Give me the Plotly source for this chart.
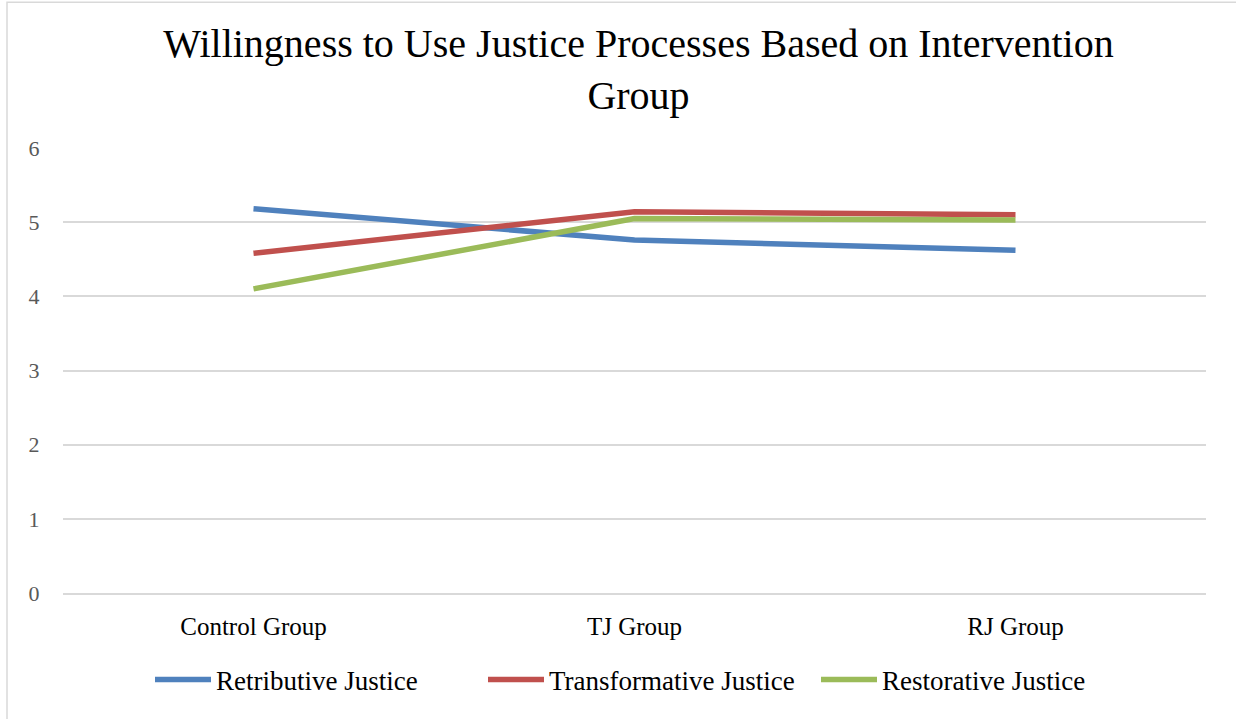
import plotly.graph_objects as go

categories = ["Control Group", "TJ Group", "RJ Group"]
retributive = [5.18, 4.76, 4.62]
transformative = [4.58, 5.14, 5.10]
restorative = [4.10, 5.05, 5.03]
series_names = ["Retributive Justice", "Transformative Justice", "Restorative Justice"]
colors = ["#4F81BD", "#C0504D", "#9BBB59"]
y_ticks = [0, 1, 2, 3, 4, 5, 6]

fig = go.Figure()
for name, vals, c in zip(series_names, [retributive, transformative, restorative], colors):
    fig.add_trace(go.Scatter(x=categories, y=vals, mode="lines", name=name,
                             line=dict(color=c, width=5.5)))

fig.update_layout(
    width=1236, height=719,
    paper_bgcolor="white", plot_bgcolor="white",
    margin=dict(l=63, r=30, t=148, b=125.5, autoexpand=False),
    title=dict(text="Willingness to Use Justice Processes Based on Intervention<br>Group",
               x=0.5035, xanchor="center", xref="paper", yref="container",
               y=1 - 57 / 719, yanchor="middle",
               font=dict(family="Liberation Serif", size=40, color="black")),
    font=dict(family="Liberation Serif", size=21, color="#404040"),
    showlegend=True,
    legend=dict(orientation="h", x=(150 - 63) / 1143, xanchor="left",
                y=(593.5 - 656) / 445.5, yanchor="top",
                font=dict(family="Liberation Serif", size=27, color="black"),
                itemwidth=56, entrywidth=262, entrywidthmode="pixels"),
    xaxis=dict(type="category", showgrid=False, showline=True, linecolor="#d9d9d9",
               linewidth=1.5, ticks="outside", ticklen=10, tickcolor="rgba(0,0,0,0)",
               tickfont=dict(color="black", size=25),
               range=[-0.5, 2.5]),
    yaxis=dict(range=[0, 6], tickvals=y_ticks, showgrid=True, gridcolor="#d9d9d9",
               gridwidth=1.5, zeroline=False, ticks="outside", ticklen=18,
               tickcolor="rgba(0,0,0,0)",
               tickfont=dict(color="#595959", size=22)),
)

fig.add_shape(type="rect", xref="paper", yref="paper",
              x0=(7 - 63) / 1143, x1=(1240 - 63) / 1143,
              y0=(593.5 - 726) / 445.5, y1=(593.5 - 2) / 445.5,
              line=dict(color="#d9d9d9", width=1.5), fillcolor="rgba(0,0,0,0)", layer="below")

fig.write_html("out.html", config={"displayModeBar": False},
               post_script="document.body.style.margin='0';")
